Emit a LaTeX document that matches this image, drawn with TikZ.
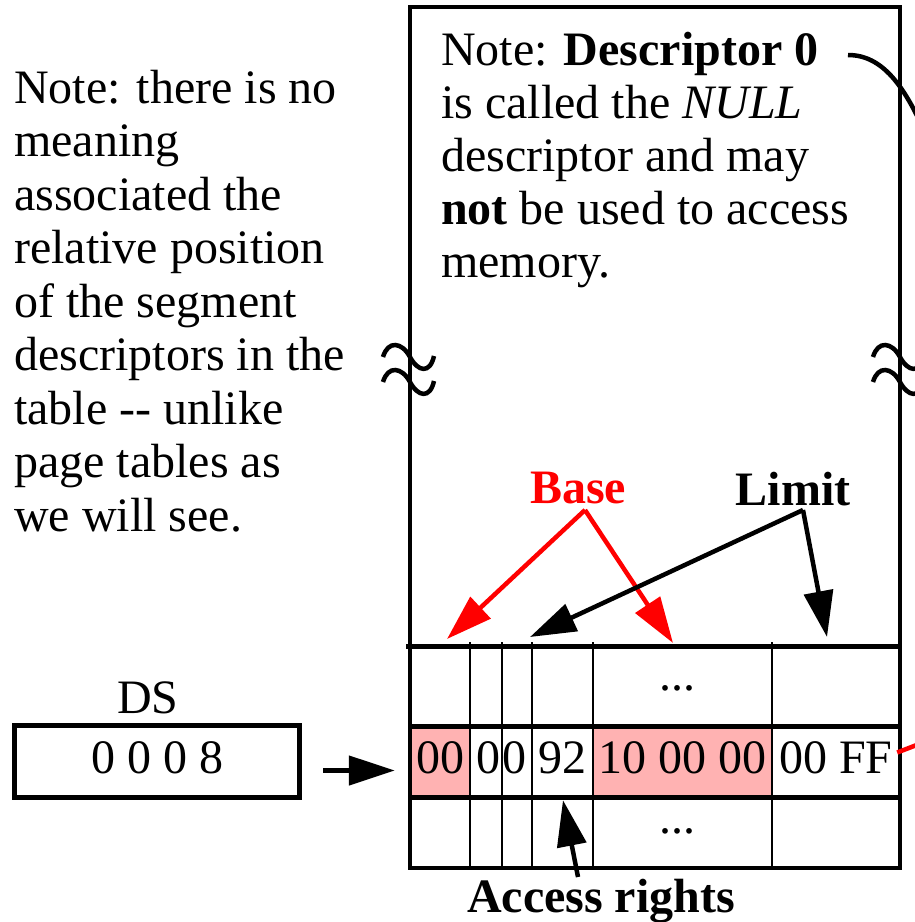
\documentclass[tikz,border=0pt]{standalone}
\usepackage{fontspec}
\setmainfont{Liberation Serif}
\usetikzlibrary{arrows.meta,calc}
\definecolor{pinkfill}{RGB}{255,178,178}
\newcommand\bigf{\fontsize{48pt}{53.5pt}\selectfont}
\begin{document}
\begin{tikzpicture}[x=1pt,y=-1pt,font=\bigf]
\tikzset{
  rowline/.style={line width=5pt},
  colline/.style={line width=2.2pt},
  bigarrow/.style={line width=4.5pt,-{Triangle[length=46pt,width=29pt]}},
  cell/.style={inner sep=0pt,minimum height=71pt,text height=28pt,text depth=5pt},
  notetext/.style={anchor=base west,align=left,inner sep=0pt},
  boldlabel/.style={anchor=base,inner sep=0pt,font=\bigf\bfseries},
  squig/.style={line width=4.5pt},
}
\useasboundingbox (0,0) rectangle (914,922);

% cells of the descriptor row
\node[cell,fill=pinkfill,minimum width=60pt] (c1) at (440,761.5) {00};
\node[cell,minimum width=32pt] (c2) at (488,761.5) {0};
\node[cell,minimum width=30pt] (c3) at (514,761.5) {0};
\node[cell,minimum width=61pt] (c4) at (562.5,761.5) {92};
\node[cell,fill=pinkfill,minimum width=179pt] (c5) at (682.5,761.5) {10 00 00};
\node[cell,minimum width=128pt] (c6) at (836,761.5) {00 FF};
\node[anchor=base,inner sep=0pt] (dotsA) at (677,690) {...};
\node[anchor=base,inner sep=0pt] (dotsB) at (677,833) {...};

% table frame and grid
\draw[line width=4pt] (410,7) rectangle (900,868);
\draw[rowline] (406,646) -- (900,646);
\draw[rowline] (410,726) -- (900,726);
\draw[rowline] (410,797) -- (900,797);
\foreach \x in {470,502,532,593,772} \draw[colline] (\x,642) -- (\x,868);

% break marks
\foreach \cx in {410,900}
  \foreach \cy in {357,382}
    \draw[squig] (\cx-27,\cy) .. controls (\cx-22,\cy-17) and (\cx-8,\cy-15) .. (\cx,\cy)
                 .. controls (\cx+8,\cy+15) and (\cx+20,\cy+17) .. (\cx+24,\cy-1);

% notes (anchored at the baseline of their last line)
\node[notetext] (note1) at (14,531) {Note: there is no\\meaning\\associated the\\relative position\\of the segment\\descriptors in the\\table -{}- unlike\\page tables as\\we will see.};
\node[notetext,font=\fontsize{48pt}{53pt}\selectfont] (note2) at (441,277) {Note: \textbf{Descriptor 0}\\is called the \textit{NULL}\\descriptor and may\\\textbf{not} be used to access\\memory.};
\coordinate (d0) at (848,55);
\draw[line width=4.5pt] (d0) .. controls (882,55) and (905,85) .. (928,140);

% labels and arrows
\node[boldlabel,text=red] (base) at (578,503) {Base};
\node[boldlabel] (limit) at (793,505) {Limit};
\node[boldlabel] (acc) at (601,912) {Access rights};
\coordinate (bapex) at (585,510);
\coordinate (lapex) at (803,510);
\coordinate (tb1) at (447,639);
\coordinate (tb2) at (673,643);
\coordinate (tl1) at (530,637);
\coordinate (tl2) at (827,637);
\draw[bigarrow,red] (bapex) -- (tb1);
\draw[bigarrow,red] (bapex) -- (tb2);
\draw[bigarrow] (lapex) -- (tl1);
\draw[bigarrow] (lapex) -- (tl2);
\coordinate (acctail) at (578,877);
\draw[bigarrow] (acctail) -- ($(c4.south)+(0.5,3)$);

% DS register
\node[anchor=base,inner sep=0pt] (dslabel) at (148,713) {DS};
\node[draw,line width=5pt,minimum width=285pt,minimum height=72pt,inner sep=0pt,
      text height=28pt,text depth=5pt] (ds) at (157,761.5) {0 0 0 8};
\draw[bigarrow] ($(ds.east)+(21,9)$) -- ($(c1.west)+(-15,9)$);

% red connector leaving the picture
\draw[red,line width=4.5pt] ($(c6.east)+(-3,-9)$) -- (940,736);
\end{tikzpicture}
\end{document}
